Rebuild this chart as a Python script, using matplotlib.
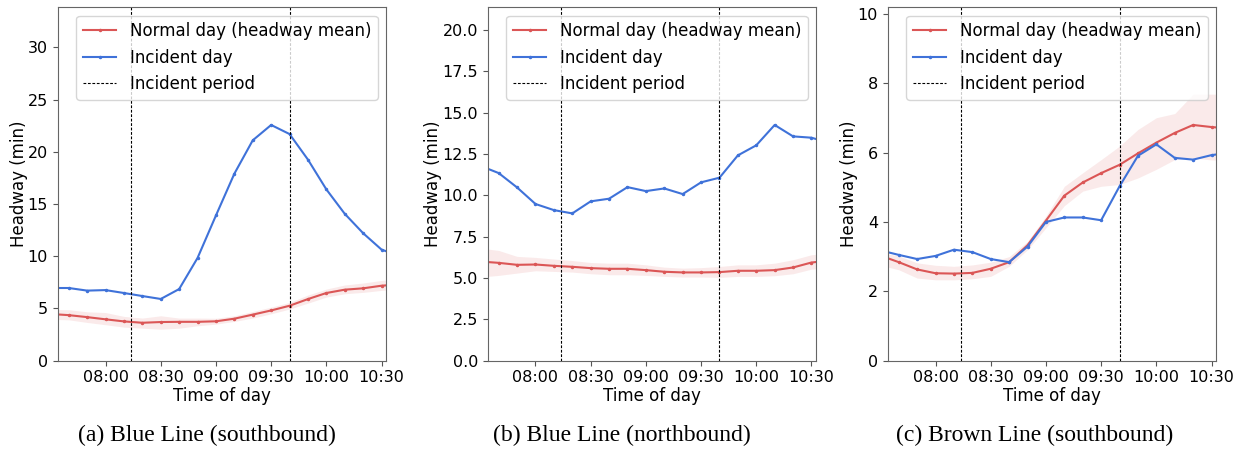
import matplotlib.pyplot as plt
import matplotlib.dates as mdates
import numpy as np
import pandas as pd

plt.rcParams['font.family'] = ['DejaVu Sans']

# time bins, every 10 minutes
times = pd.date_range('2020-01-01 07:30', '2020-01-01 10:40', freq='10min')
incident_start = pd.Timestamp('2020-01-01 08:14')
incident_end = pd.Timestamp('2020-01-01 09:40')

# (a) Blue Line southbound
a_normal = [4.46, 4.35, 4.16, 3.95, 3.75, 3.62, 3.69, 3.71, 3.71, 3.76, 4.01, 4.40,
            4.80, 5.25, 5.89, 6.47, 6.79, 6.92, 7.17, 7.30]
a_upper = [4.90, 4.87, 4.67, 4.60, 4.23, 4.07, 4.29, 4.07, 4.07, 4.05, 4.29, 4.70,
           5.12, 5.57, 6.28, 6.85, 7.24, 7.43, 7.68, 7.80]
a_lower = [3.95, 3.90, 3.65, 3.43, 3.20, 3.10, 3.00, 3.10, 3.33, 3.49, 3.75, 4.07,
           4.48, 4.93, 5.50, 6.08, 6.40, 6.53, 6.72, 6.85]
a_incident = [6.95, 6.95, 6.70, 6.75, 6.47, 6.18, 5.90, 6.85, 9.83, 13.90, 17.90, 21.10,
              22.57, 21.70, 19.25, 16.40, 14.06, 12.20, 10.63, 10.00]

# (b) Blue Line northbound
b_normal = [5.99, 5.91, 5.79, 5.81, 5.73, 5.67, 5.59, 5.55, 5.55, 5.47, 5.37, 5.33,
            5.33, 5.35, 5.43, 5.43, 5.47, 5.63, 5.93, 6.05]
b_upper = [6.80, 6.66, 6.30, 6.24, 6.14, 6.05, 5.93, 5.89, 5.89, 5.79, 5.65, 5.59,
           5.62, 5.69, 5.79, 5.79, 5.89, 6.10, 6.40, 6.50]
b_lower = [5.05, 5.15, 5.29, 5.43, 5.39, 5.35, 5.25, 5.19, 5.19, 5.15, 5.09, 5.05,
           5.05, 5.03, 5.09, 5.09, 5.13, 5.25, 5.53, 5.60]
b_incident = [11.78, 11.34, 10.47, 9.47, 9.10, 8.90, 9.63, 9.79, 10.49, 10.25, 10.41, 10.07,
              10.78, 11.06, 12.41, 13.02, 14.25, 13.56, 13.48, 13.16]

# (c) Brown Line southbound
c_normal = [3.03, 2.84, 2.63, 2.52, 2.51, 2.53, 2.65, 2.84, 3.33, 4.04, 4.76, 5.14,
            5.41, 5.65, 5.98, 6.29, 6.57, 6.80, 6.74, 6.70]
c_upper = [3.12, 3.02, 2.82, 2.75, 2.72, 2.76, 2.84, 3.00, 3.44, 4.17, 5.03, 5.42,
           5.80, 6.19, 6.67, 7.01, 7.13, 7.69, 7.69, 7.69]
c_lower = [2.75, 2.62, 2.38, 2.33, 2.33, 2.36, 2.43, 2.72, 3.20, 3.83, 4.47, 4.89,
           5.03, 5.08, 5.27, 5.52, 5.80, 5.85, 5.79, 5.78]
c_incident = [3.18, 3.05, 2.93, 3.02, 3.20, 3.13, 2.93, 2.84, 3.29, 4.00, 4.13, 4.13,
              4.05, 5.03, 5.91, 6.24, 5.85, 5.80, 5.93, 6.00]

panels = [
    (a_normal, a_lower, a_upper, a_incident, '(a) Blue Line (southbound)'),
    (b_normal, b_lower, b_upper, b_incident, '(b) Blue Line (northbound)'),
    (c_normal, c_lower, c_upper, c_incident, '(c) Brown Line (southbound)'),
]

red = '#db5656'
blue = '#3f72d9'
lefts = [0.0464, 0.392, 0.7136]
width = 0.264
caption_x = [0.166, 0.5, 0.832]

fig = plt.figure(figsize=(12.44, 4.49), dpi=100)

for i, (normal, lower, upper, incident, caption) in enumerate(panels):
    ax = fig.add_axes([lefts[i], 0.197, width, 0.787])
    ax.fill_between(times, lower, upper, color=red, alpha=0.12, lw=0)
    ax.plot(times, normal, color=red, marker='.', markersize=3, lw=1.5,
            label='Normal day (headway mean)')
    ax.plot(times, incident, color=blue, marker='.', markersize=3, lw=1.5,
            label='Incident day')
    ax.axvline(incident_start, color='black', ls='--', lw=0.8, dashes=(2.5, 1.5),
               label='Incident period')
    ax.axvline(incident_end, color='black', ls='--', lw=0.8, dashes=(2.5, 1.5))

    ax.set_xlim(pd.Timestamp('2020-01-01 07:34'), pd.Timestamp('2020-01-01 10:32:30'))
    ax.set_ylim(0, 1.5 * max(max(incident), max(normal)))
    ax.xaxis.set_major_locator(mdates.MinuteLocator(byminute=[0, 30]))
    ax.xaxis.set_major_formatter(mdates.DateFormatter('%H:%M'))
    ax.tick_params(labelsize=11.5, color='#555555')
    for s in ax.spines.values():
        s.set_color('#666666')
    ax.set_xlabel('Time of day', fontsize=12, labelpad=1)
    ax.set_ylabel('Headway (min)', fontsize=12, labelpad=0)
    ax.legend(loc='upper right', fontsize=12)

    fig.text(caption_x[i], 0.031, caption, ha='center', va='center',
             family='Liberation Serif', fontsize=17)

fig.savefig('out.png', dpi=100)
